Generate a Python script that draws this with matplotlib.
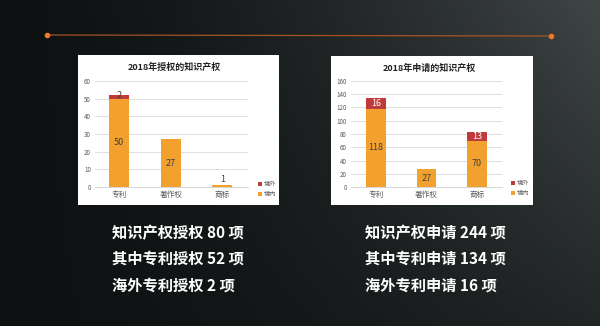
import numpy as np
import matplotlib
matplotlib.use("Agg")
import matplotlib.pyplot as plt
from matplotlib.patches import Rectangle
from matplotlib.colors import LinearSegmentedColormap

plt.rcParams['font.family'] = ['Noto Sans CJK SC', 'DejaVu Sans']

categories = ['专利', '著作权', '商标']
grant_domestic = [50, 27, 1]
grant_foreign = [2, 0, 0]
apply_domestic = [118, 27, 70]
apply_foreign = [16, 0, 13]
legend_labels = ['境外', '境内']
titles = ['2018年授权的知识产权', '2018年申请的知识产权']
left_lines = ['知识产权授权 80 项', '其中专利授权 52 项', '海外专利授权 2 项']
right_lines = ['知识产权申请 244 项', '其中专利申请 134 项', '海外专利申请 16 项']

W, H = 600, 326
fig = plt.figure(figsize=(6, 3.26), dpi=100)

def fx(x): return x / W
def fy(y): return 1 - y / H

# background gradient
bg = fig.add_axes([0, 0, 1, 1])
bg.set_axis_off()
xx, yy = np.meshgrid(np.linspace(0, 1, 300), np.linspace(0, 1, 163))
b = np.clip(xx ** 1.5 * (1 - 0.6 * yy), 0, 1)
cmap = LinearSegmentedColormap.from_list('bg', ['#0d1112', '#404545'])
bg.imshow(b, cmap=cmap, extent=[0, 1, 0, 1], aspect='auto', origin='upper', vmin=0, vmax=1)
bg.set_xlim(0, 1); bg.set_ylim(0, 1)

# orange line
bg.plot([fx(47), fx(551)], [fy(35), fy(36)], color='#b05a28', lw=0.9, alpha=0.9)
bg.plot([fx(47), fx(551)], [fy(35), fy(36)], 'o', color='#f07828', ms=3)

# panels
for (x0, x1, y0, y1) in [(78, 279, 55, 205), (331, 533, 56, 205)]:
    bg.add_patch(Rectangle((fx(x0), fy(y1)), fx(x1 - x0), (y1 - y0) / H,
                           facecolor='white', edgecolor='none'))

ORANGE = '#f2a12e'
RED = '#c0393b'

def draw(ax_rect, dom, frn, ymax, step, xlim, title, title_y, leg_x, leg_y):
    ax = fig.add_axes(ax_rect)
    ax.set_facecolor('none')
    x = np.arange(len(categories))
    ax.bar(x, dom, width=0.39, color=ORANGE, zorder=3)
    ax.bar(x, frn, bottom=dom, width=0.39, color=RED, zorder=3)
    ax.set_ylim(0, ymax)
    ax.set_xlim(*xlim)
    ax.set_yticks(np.arange(0, ymax + 1, step))
    ax.yaxis.grid(True, color='#d9d9d9', lw=0.6, zorder=0)
    for s in ['top', 'right', 'left']:
        ax.spines[s].set_visible(False)
    ax.spines['bottom'].set_color('#d0d0d0')
    ax.spines['bottom'].set_linewidth(0.6)
    ax.tick_params(axis='both', length=0, labelsize=4.5, colors='#595959', pad=3)
    ax.set_xticks(x)
    ax.set_xticklabels(categories, fontsize=5.5)
    for i in range(len(categories)):
        d, f = dom[i], frn[i]
        if d >= 5:
            ax.text(x[i], d / 2, str(d), ha='center', va='center', fontsize=6.5, color='#404040', zorder=4)
        else:
            ax.text(x[i], d + ymax * 0.01, str(d), ha='center', va='bottom', fontsize=6.5, color='#404040', zorder=4)
        if f > 0:
            if f >= 8:
                ax.text(x[i], d + f / 2, str(f), ha='center', va='center', fontsize=6.5, color='white', zorder=4)
            else:
                ax.text(x[i], d + f, str(f), ha='center', va='center', fontsize=6.5, color='#404040', zorder=4)
    fig.text(ax_rect[0] + ax_rect[2] / 2 + 0.005, title_y, title, ha='center', va='center',
             fontsize=6.5, fontweight='bold', color='#222222')
    for k, (lab, col) in enumerate(zip(legend_labels, [RED, ORANGE])):
        yy_ = fy(leg_y + 10 * k)
        bg.add_patch(Rectangle((fx(leg_x) - 0.003, yy_ - 0.006), 0.006, 0.012, facecolor=col, edgecolor='none'))
        fig.text(fx(leg_x + 4), yy_, lab, ha='left', va='center', fontsize=4.5, color='#595959')
    return ax

draw([fx(95), fy(187), fx(248 - 95), (187 - 81) / H], grant_domestic, grant_foreign, 60, 10,
     (-0.47, 2.5), titles[0], fy(67), 260, 184)
draw([fx(351), fy(187), fx(502 - 351), (187 - 81) / H], apply_domestic, apply_foreign, 160, 20,
     (-0.5, 2.5), titles[1], fy(68), 513, 183)

for i, t in enumerate(left_lines):
    fig.text(fx(112), fy([233, 259, 286][i]), t, ha='left', va='center', fontsize=11,
             fontweight='bold', color='white')
for i, t in enumerate(right_lines):
    fig.text(fx(365), fy([233, 259, 286][i]), t, ha='left', va='center', fontsize=11,
             fontweight='bold', color='white')

fig.savefig('out.png', dpi=100)
